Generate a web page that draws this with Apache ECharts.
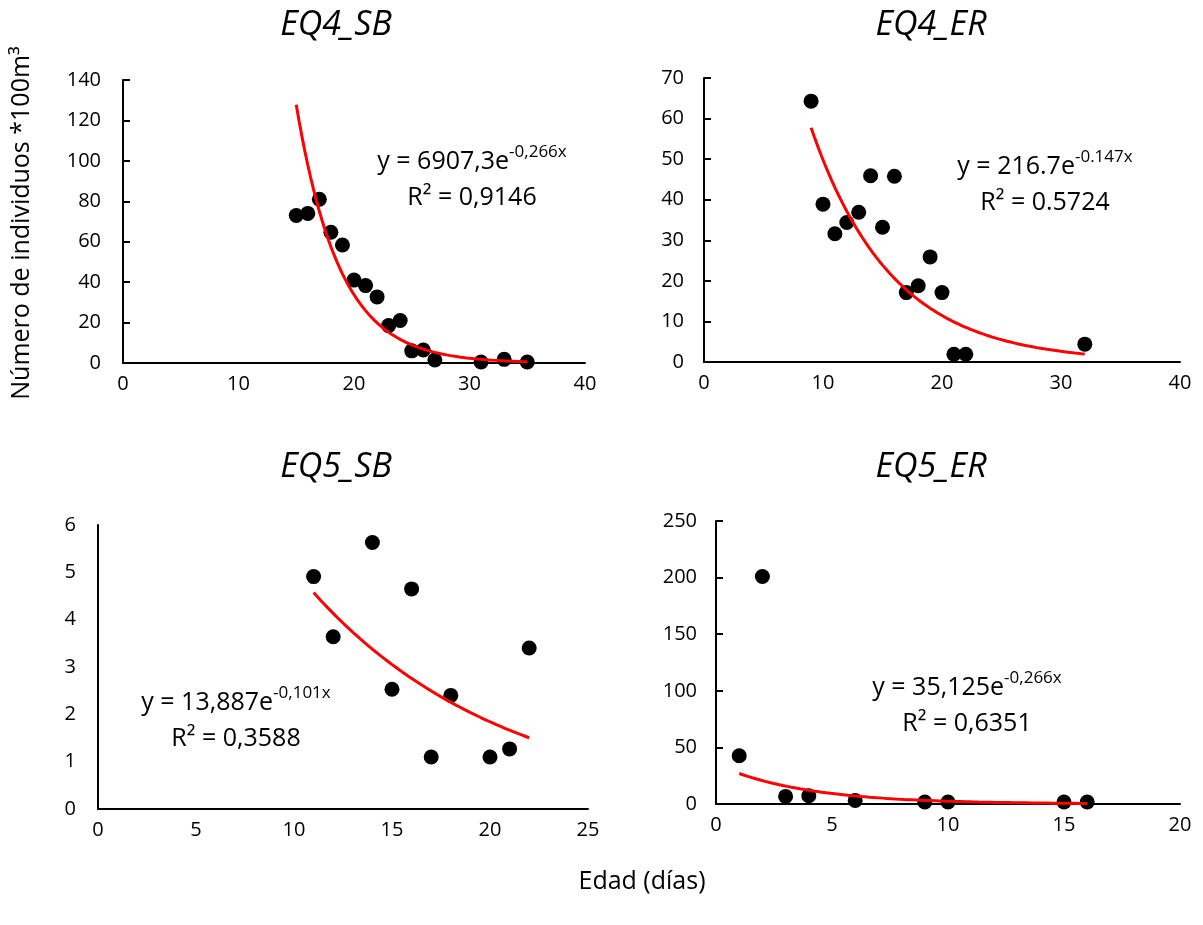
<!DOCTYPE html>
<html>
<head>
<meta charset="utf-8">
<script src="https://cdn.jsdelivr.net/npm/echarts@6/dist/echarts.min.js"></script>
<style>html,body{margin:0;padding:0;background:#fff}#c{width:1203px;height:925px}</style>
</head>
<body>
<div id="c"></div>
<script>
// ---- data ----
const titles = ['EQ4_SB', 'EQ4_ER', 'EQ5_SB', 'EQ5_ER'];

const eq4sbX = [15, 16, 17, 18, 19, 20, 21, 22, 23, 24, 25, 26, 27, 31, 33, 35];
const eq4sbY = [73, 74, 81, 64.7, 58.4, 41, 38.3, 32.7, 18.5, 21, 6, 6.4, 1.5, 0.5, 1.8, 0.5];

const eq4erX = [9, 10, 11, 12, 13, 14, 15, 16, 17, 18, 19, 20, 21, 22, 32];
const eq4erY = [64.3, 38.9, 31.6, 34.4, 36.9, 45.9, 33.2, 45.8, 17.1, 18.8, 25.9, 17.1, 1.9, 1.9, 4.4];

const eq5sbX = [11, 12, 14, 15, 16, 17, 18, 20, 21, 22];
const eq5sbY = [4.91, 3.64, 5.63, 2.53, 4.65, 1.10, 2.40, 1.10, 1.27, 3.40];

const eq5erX = [1, 2, 3, 4, 6, 9, 10, 15, 16];
const eq5erY = [42.6, 201, 6.7, 7.3, 3.2, 1.8, 1.8, 1.8, 1.8];

// trendline coefficients as shown in the chart: y = A * e^(B x)
const trendA = [6907.3, 216.7, 13.887, 35.125];
const trendB = [-0.266, -0.147, -0.101, -0.266];
const eqMain = ['y = 6907,3e', 'y = 216.7e', 'y = 13,887e', 'y = 35,125e'];
const eqExp = ['-0,266x', '-0.147x', '-0,101x', '-0,266x'];
const eqR2 = ['R² = 0,9146', 'R² = 0.5724', 'R² = 0,3588', 'R² = 0,6351'];

// axis settings
const xMax = [40, 40, 25, 20];
const xInterval = [10, 10, 5, 5];
const yMax = [140, 70, 6, 250];
const yInterval = [20, 10, 1, 50];

// ---- build ----
const xs = [eq4sbX, eq4erX, eq5sbX, eq5erX];
const ys = [eq4sbY, eq4erY, eq5sbY, eq5erY];

const grids = [
  {left: 123, top: 80, width: 462, height: 283},
  {left: 704, top: 78, width: 476, height: 284},
  {left: 98, top: 525, width: 490, height: 284},
  {left: 716, top: 521, width: 464, height: 283}
];
const yLabelMargin = [22, 20, 22, 19];
const yTickShow = [true, true, false, true];

const font = '"Open Sans", "Liberation Sans", sans-serif';

const xAxis = [], yAxis = [], series = [];
for (let i = 0; i < 4; i++) {
  xAxis.push({
    type: 'value', gridIndex: i, min: 0, max: xMax[i], interval: xInterval[i],
    axisLine: {show: true, onZero: false, lineStyle: {color: '#000', width: 2}},
    axisTick: {show: false}, splitLine: {show: false},
    axisLabel: {color: '#000', fontSize: 20, fontFamily: font, margin: 11}
  });
  yAxis.push({
    type: 'value', gridIndex: i, min: 0, max: yMax[i], interval: yInterval[i],
    axisLine: {show: true, lineStyle: {color: '#000', width: 2}},
    axisTick: {show: yTickShow[i], inside: true, length: 7, lineStyle: {color: '#000', width: 2}},
    splitLine: {show: false},
    axisLabel: {color: '#000', fontSize: 20, fontFamily: font, margin: yLabelMargin[i]}
  });
  const pts = xs[i].map((x, k) => [x, ys[i][k]]);
  series.push({
    type: 'scatter', xAxisIndex: i, yAxisIndex: i, data: pts,
    symbol: 'circle', symbolSize: 15, itemStyle: {color: '#000', opacity: 1}, z: 3
  });
  const x0 = Math.min(...xs[i]), x1 = Math.max(...xs[i]);
  const tr = [];
  const n = 80;
  for (let k = 0; k <= n; k++) {
    const x = x0 + (x1 - x0) * k / n;
    tr.push([x, trendA[i] * Math.exp(trendB[i] * x)]);
  }
  series.push({
    type: 'line', xAxisIndex: i, yAxisIndex: i, data: tr, showSymbol: false,
    symbol: 'none', smooth: false, lineStyle: {color: '#ff0000', width: 3}, z: 4, silent: true
  });
}

const titlePos = [[336, 25], [931, 25], [336, 467], [931, 467]];
const eqPos = [[472, 180], [1045, 185], [236, 721], [967, 706]];

const graphic = [];
for (let i = 0; i < 4; i++) {
  graphic.push({
    type: 'text', x: titlePos[i][0], y: titlePos[i][1],
    style: {text: titles[i], font: 'italic 34px ' + font, fill: '#000', align: 'center', verticalAlign: 'middle'}
  });
  graphic.push({
    type: 'text', x: eqPos[i][0], y: eqPos[i][1], z: 10,
    style: {
      text: '{n|' + eqMain[i] + '}{s|' + eqExp[i] + '}\n{n|' + eqR2[i] + '}',
      align: 'center', verticalAlign: 'middle', fill: '#000',
      rich: {
        n: {fontSize: 25, fontFamily: font, lineHeight: 36, fill: '#000'},
        s: {fontSize: 17, fontFamily: font, lineHeight: 36, verticalAlign: 'top', fill: '#000'}
      }
    }
  });
}
graphic.push({
  type: 'text', x: 22, y: 223, rotation: Math.PI / 2,
  style: {text: 'Número de individuos *100m³', font: '25px ' + font, fill: '#000', align: 'center', verticalAlign: 'middle'}
});
graphic.push({
  type: 'text', x: 642, y: 882,
  style: {text: 'Edad (días)', font: '25px ' + font, fill: '#000', align: 'center', verticalAlign: 'middle'}
});

const chart = echarts.init(document.getElementById('c'), null, {renderer: 'canvas'});
chart.setOption({
  animation: false,
  backgroundColor: '#fff',
  grid: grids,
  xAxis: xAxis,
  yAxis: yAxis,
  series: series,
  graphic: graphic
});
</script>
</body>
</html>
